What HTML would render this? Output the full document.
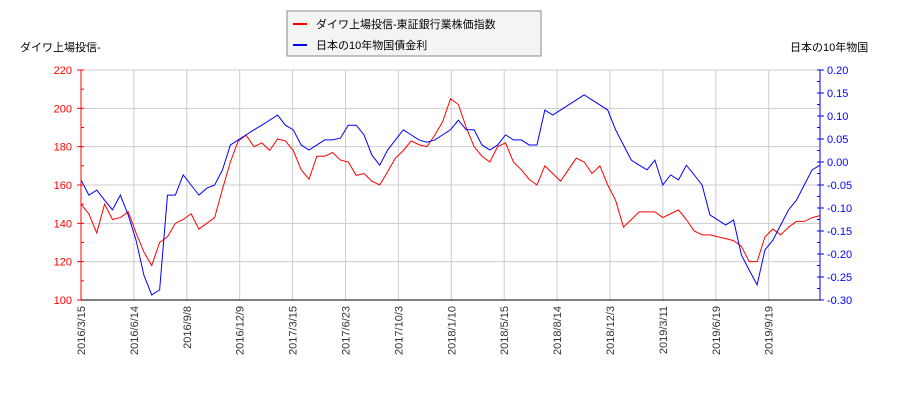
<!DOCTYPE html>
<html><head><meta charset="utf-8"><style>
body{margin:0;background:#fff;font-family:"Liberation Sans","Noto Sans CJK JP",sans-serif;}
svg text{font-family:"Liberation Sans","Noto Sans CJK JP",sans-serif;font-size:11px;}
</style></head><body>
<svg id="chart" width="900" height="400" xmlns="http://www.w3.org/2000/svg">
<rect x="287" y="11" width="254" height="45" fill="#f4f4f4" stroke="#888"/>
<line x1="293" y1="24" x2="307" y2="24" stroke="#f00" stroke-width="2"/>
<text x="316" y="28" font-size="12">ダイワ上場投信-東証銀行業株価指数</text>
<line x1="293" y1="45" x2="307" y2="45" stroke="#00f" stroke-width="2"/>
<text x="316" y="49" font-size="12">日本の10年物国債金利</text>
<text x="20" y="51">ダイワ上場投信-</text>
<text x="790" y="51">日本の10年物国</text>
<g id="grid"></g><g id="series"></g><g id="axes"></g>
</svg>
<script>
const xLabels=["2016/3/15","2016/6/14","2016/9/8","2016/12/9","2017/3/15","2017/6/23","2017/10/3","2018/1/10","2018/5/15","2018/8/14","2018/12/3","2019/3/11","2019/6/19","2019/9/19"];
const leftTicks=[100,120,140,160,180,200,220];
const rightTicks=[-0.30,-0.25,-0.20,-0.15,-0.10,-0.05,0.00,0.05,0.10,0.15,0.20];
const etfValues=[150,145,135,150,142,143,146,135,125,118,130,133,140,142,145,137,140,143,158,172,183,186,180,182,178,184,183,178,168,163,175,175,177,173,172,165,166,162,160,167,174,178,183,181,180,186,193,205,202,190,180,175,172,180,182,172,168,163,160,170,166,162,168,174,172,166,170,160,152,138,142,146,146,146,143,145,147,142,136,134,134,133,132,131,128,120,120,133,137,134,138,141,141,143,144];
const jgbValues=[-0.039,-0.072,-0.061,-0.083,-0.104,-0.072,-0.115,-0.17,-0.246,-0.289,-0.278,-0.072,-0.072,-0.028,-0.05,-0.072,-0.057,-0.05,-0.017,0.037,0.048,0.059,0.07,0.08,0.091,0.102,0.08,0.07,0.037,0.026,0.037,0.048,0.048,0.052,0.08,0.08,0.059,0.015,-0.007,0.026,0.048,0.07,0.059,0.048,0.043,0.048,0.059,0.07,0.091,0.07,0.07,0.037,0.026,0.037,0.059,0.048,0.048,0.037,0.037,0.113,0.102,0.113,0.124,0.135,0.146,0.135,0.124,0.113,0.07,0.037,0.004,-0.007,-0.017,0.004,-0.05,-0.028,-0.039,-0.007,-0.028,-0.05,-0.115,-0.126,-0.137,-0.126,-0.202,-0.235,-0.267,-0.191,-0.17,-0.137,-0.104,-0.083,-0.05,-0.017,-0.007];
const X0=81,X1=820,Y0=300,Y1=70,GRIDSTEP=52.9;
const NS="http://www.w3.org/2000/svg";
const xIdx=i=>X0+(X1-X0)*i/(etfValues.length-1);
const yL=v=>Y0-(v-100)/(220-100)*(Y0-Y1);
const yR=v=>Y0-(v+0.30)/(0.50)*(Y0-Y1);
function mk(tag,attrs,parent){const e=document.createElementNS(NS,tag);for(const k in attrs)e.setAttribute(k,attrs[k]);parent.appendChild(e);return e;}
const grid=document.getElementById('grid'),axes=document.getElementById('axes'),series=document.getElementById('series');
xLabels.forEach((lab,i)=>{const x=X0+i*GRIDSTEP;
 const g=mk('line',{x1:x,x2:x,y1:Y1,y2:Y0,stroke:'#ccc'},grid);
 
 
 const t=mk('text',{x:0,y:0,transform:`translate(${x+4},${Y0+6}) rotate(-90)`,'text-anchor':'end',fill:'#333'},axes);
 t.textContent=lab;
 
 
});
leftTicks.forEach(v=>{const y=yL(v);
 const g=mk('line',{x1:X0,x2:X1,y1:y,y2:y,stroke:'#ccc'},grid);
 
 
 mk('line',{x1:X0-4,x2:X0,y1:y,y2:y,stroke:'#f00'},axes);
 const t=mk('text',{x:X0-9,y:y+4,'text-anchor':'end',fill:'#f00'},axes);
 t.textContent=v;
 
 
});
for(let v=100;v<=220;v+=10){const y=yL(v);mk('line',{x1:X0,x2:X0+3,y1:y,y2:y,stroke:'#f00'},axes);}
rightTicks.forEach(v=>{const y=yR(v);
 mk('line',{x1:X1,x2:X1+4,y1:y,y2:y,stroke:'#00f'},axes);
 const t=mk('text',{x:X1+7,y:y+4,fill:'#00f'},axes);
 t.textContent=v.toFixed(2);
 
 
});
for(let v=-0.30;v<=0.2001;v+=0.025){const y=yR(v);mk('line',{x1:X1-3,x2:X1,y1:y,y2:y,stroke:'#00f'},axes);}
const la=mk('line',{x1:X0,x2:X0,y1:Y1,y2:Y0,stroke:'#f00'},axes);


const ra=mk('line',{x1:X1,x2:X1,y1:Y1,y2:Y0,stroke:'#00f'},axes);


const ba=mk('line',{x1:X0,x2:X1,y1:Y0,y2:Y0,stroke:'#000'},axes);


const p1=mk('polyline',{points:etfValues.map((v,i)=>xIdx(i)+','+yL(v)).join(' '),fill:'none',stroke:'#f00','stroke-width':1},series);


const p2=mk('polyline',{points:jgbValues.map((v,i)=>X0+(X1-X0)*i/(jgbValues.length-1)+','+yR(v)).join(' '),fill:'none',stroke:'#00f','stroke-width':1},series);


</script>
</body></html>
